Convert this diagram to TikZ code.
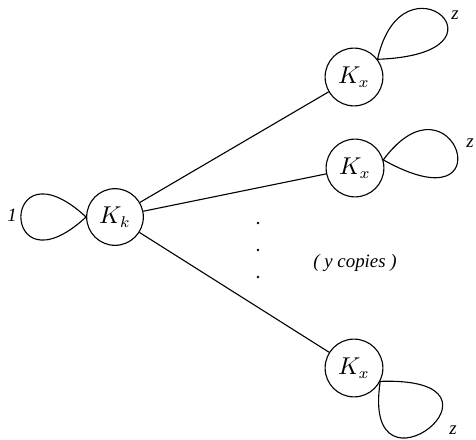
\documentclass[tikz,border=0pt]{standalone}
\usepackage{fontspec}
\newfontfamily\timesfont{Liberation Serif}
\begin{document}
\begin{tikzpicture}[x=0.45pt,y=-0.45pt, line width=0.5pt,
  knode/.style={draw, circle, minimum size=26pt, inner sep=0pt, font=\fontsize{10.5}{12}\selectfont},
  lbl/.style={font=\timesfont\itshape\fontsize{8.5}{10}\selectfont, inner sep=0pt},
  dotmark/.style={circle, fill, inner sep=0pt, minimum size=1.3pt}]
\useasboundingbox (0,0) rectangle (476,440);
\node[knode, minimum size=25.5pt] (kk) at (115,217) {$K_k$};
\node[knode] (kx1) at (354,77) {$K_x$};
\node[knode] (kx2) at (355,168) {$K_x$};
\node[knode] (kx3) at (354,368) {$K_x$};
\draw (kk) -- (kx1);
\draw (kk) -- (kx2);
\draw (kk) -- (kx3);
\draw (kk.180) .. controls +(-87,-80) and +(-87,80) .. (kk.180);
\draw (kx1.37) .. controls +(145,-5) and +(25,-112) .. (kx1.37);
\draw (kx2.16) .. controls +(70,-95) and +(125,70) .. (kx2.16);
\draw (kx3.-27) .. controls +(-20,130) and +(150,-5) .. (kx3.-27);
\node[lbl] (one) at (12,215) {1};
\node[lbl] (z1) at (455,15) {z};
\node[lbl] (z2) at (470,143) {z};
\node[lbl] (z3) at (453,430) {z};
\node[lbl] (copies) at (355,263) {( y copies )};
\node[dotmark] (d1) at (258,223) {};
\node[dotmark] (d2) at (258,250) {};
\node[dotmark] (d3) at (258,277) {};
\end{tikzpicture}
\end{document}
